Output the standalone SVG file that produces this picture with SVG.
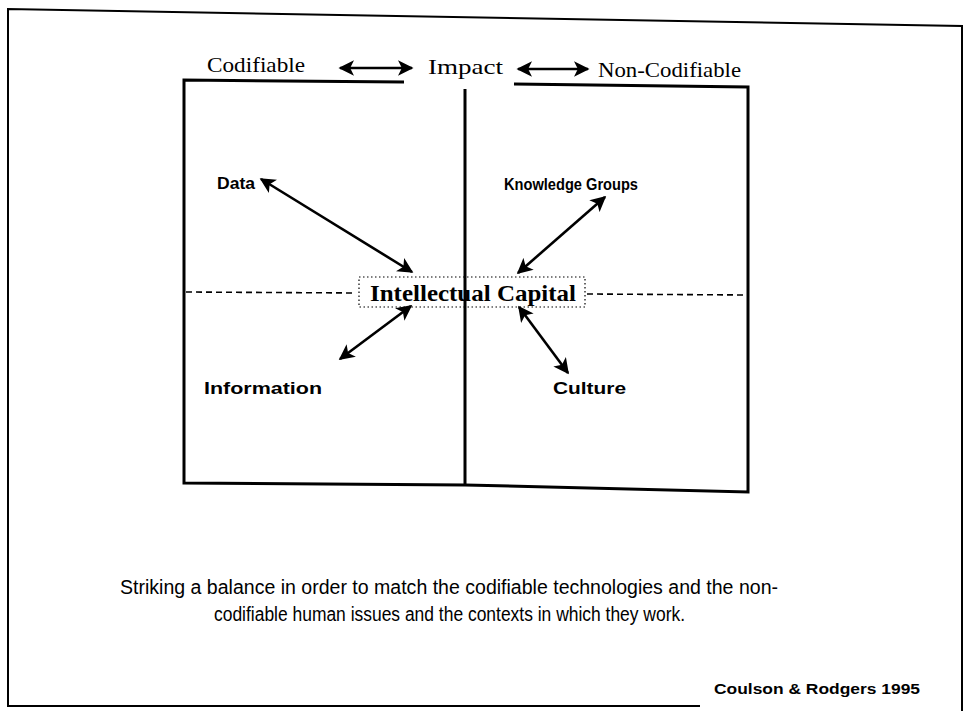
<svg xmlns="http://www.w3.org/2000/svg" width="967" height="711" viewBox="0 0 967 711">
  <style>
    .frame { fill: none; stroke: #000; stroke-width: 2; }
    .box { fill: none; stroke: #000; stroke-width: 3; }
    .conn { fill: none; stroke: #000; stroke-width: 2.6; marker-start: url(#head); marker-end: url(#head); }
    .dash { fill: none; stroke: #000; stroke-width: 1.6; stroke-dasharray: 6 4; }
    .top { font-family: "Liberation Serif", serif; font-size: 21px; fill: #000; }
    .node { font-family: "Liberation Sans", sans-serif; font-weight: bold; font-size: 16px; fill: #000; }
    .cap { font-family: "Liberation Serif", serif; font-weight: bold; font-size: 23px; fill: #000; }
    .caption { font-family: "Liberation Sans", sans-serif; font-size: 20px; fill: #000; }
    .cite { font-family: "Liberation Sans", sans-serif; font-weight: bold; font-size: 15px; fill: #000; }
  </style>
  <defs>
    <marker id="head" viewBox="0 0 10 10" refX="9" refY="5" markerWidth="6" markerHeight="6" orient="auto-start-reverse" markerUnits="strokeWidth">
      <path d="M0,0 L10,5 L0,10 L2.5,5 Z" fill="#000"/>
    </marker>
  </defs>

  <rect width="967" height="711" fill="#fff"/>

  <!-- page frame -->
  <g id="page-frame">
    <polyline class="frame" points="700,706 8,706 8,9 962,26 962,711"/>
  </g>

  <!-- quadrant box -->
  <g id="quadrant-box">
    <polyline class="box" points="404,82 184,80 184,483 465,485 748,492 748,87 514,84"/>
    <line class="box" x1="465" y1="89" x2="465" y2="485"/>
    <line class="dash" x1="186" y1="292" x2="356" y2="293"/>
    <line class="dash" x1="587" y1="294" x2="745" y2="295"/>
  </g>

  <!-- headings -->
  <g id="codifiable">
    <text class="top" x="207" y="72" textLength="98" lengthAdjust="spacingAndGlyphs">Codifiable</text>
  </g>
  <g id="impact">
    <text class="top" x="428" y="74" textLength="75" lengthAdjust="spacingAndGlyphs">Impact</text>
  </g>
  <g id="non-codifiable">
    <text class="top" x="598" y="77" textLength="143" lengthAdjust="spacingAndGlyphs">Non-Codifiable</text>
  </g>

  <!-- quadrant labels -->
  <g id="data">
    <text class="node" x="217" y="189" textLength="38" lengthAdjust="spacingAndGlyphs">Data</text>
  </g>
  <g id="knowledge-groups">
    <text class="node" x="504" y="190" textLength="134" lengthAdjust="spacingAndGlyphs">Knowledge Groups</text>
  </g>
  <g id="information">
    <text class="node" x="204" y="394" font-size="18" textLength="118" lengthAdjust="spacingAndGlyphs">Information</text>
  </g>
  <g id="culture">
    <text class="node" x="553" y="394" font-size="17" textLength="73" lengthAdjust="spacingAndGlyphs">Culture</text>
  </g>

  <!-- centre label -->
  <g id="intellectual-capital">
    <rect x="359" y="277" width="226" height="30" fill="none" stroke="#000" stroke-width="1.2" stroke-dasharray="1.5 2.5"/>
    <text class="cap" x="370" y="301" textLength="206" lengthAdjust="spacingAndGlyphs">Intellectual Capital</text>
  </g>

  <!-- connectors -->
  <g id="connectors">
    <line class="conn" x1="340" y1="68" x2="412" y2="68"/>
    <line class="conn" x1="518" y1="69" x2="588" y2="69"/>
    <line class="conn" x1="261" y1="179" x2="412" y2="272"/>
    <line class="conn" x1="605" y1="197" x2="518" y2="273"/>
    <line class="conn" x1="411" y1="306" x2="340" y2="359"/>
    <line class="conn" x1="519" y1="307" x2="568" y2="373"/>
  </g>

  <!-- caption -->
  <g id="caption">
    <text class="caption" x="120" y="594" textLength="658" lengthAdjust="spacingAndGlyphs">Striking a balance in order to match the codifiable technologies and the non-</text>
    <text class="caption" x="214" y="621" textLength="471" lengthAdjust="spacingAndGlyphs">codifiable human issues and the contexts in which they work.</text>
  </g>

  <g id="citation">
    <text class="cite" x="714" y="694" textLength="206" lengthAdjust="spacingAndGlyphs">Coulson &amp; Rodgers 1995</text>
  </g>
</svg>
